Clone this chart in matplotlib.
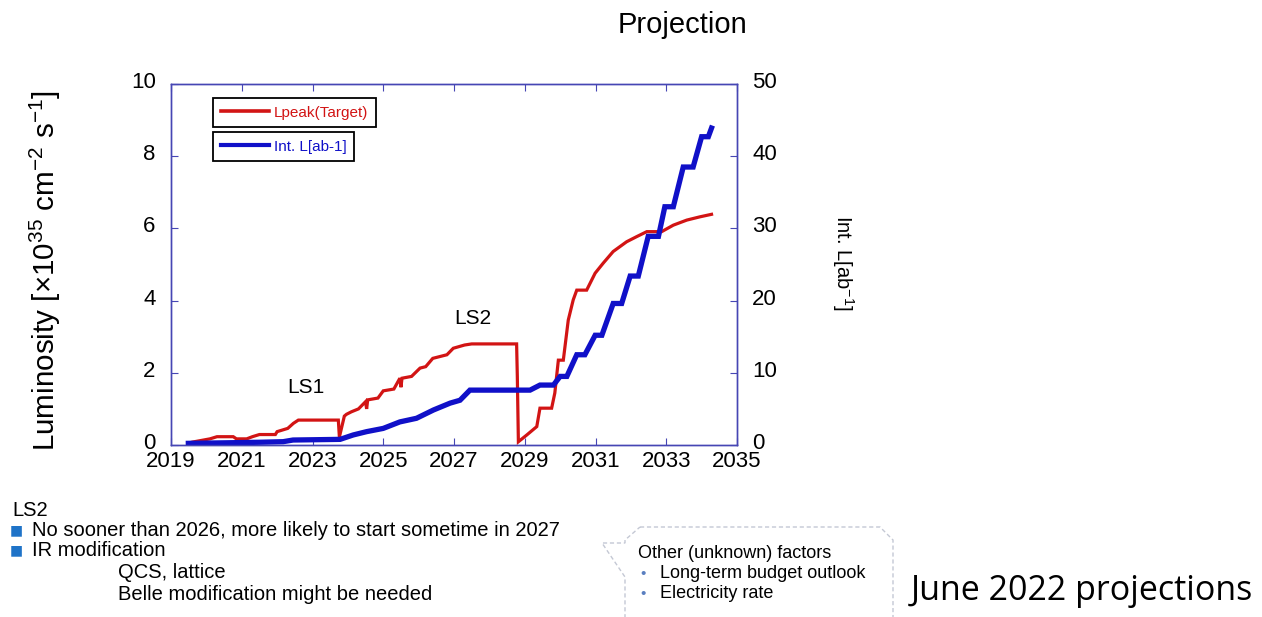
import numpy as np
import matplotlib.pyplot as plt
from matplotlib.lines import Line2D
from matplotlib.path import Path
from matplotlib.patches import PathPatch
from matplotlib.transforms import ScaledTranslation

plt.rcParams['font.family'] = ['Liberation Sans', 'DejaVu Sans']
plt.rcParams['mathtext.fontset'] = 'custom'
plt.rcParams['mathtext.rm'] = 'Liberation Sans'
plt.rcParams['mathtext.it'] = 'Liberation Sans'
plt.rcParams['mathtext.default'] = 'regular'

# peak luminosity target, x1e35 cm^-2 s^-1 (left axis)
red_year = [2019.49, 2019.6, 2020.1, 2020.3, 2020.76, 2020.85, 2021.14, 2021.3, 2021.5,
            2021.95, 2022.0, 2022.3, 2022.46, 2022.6, 2023.73, 2023.76, 2023.9, 2023.96,
            2024.1, 2024.3, 2024.5, 2024.53, 2024.56, 2024.85, 2025.0, 2025.3, 2025.47,
            2025.5, 2025.53, 2025.8, 2026.04, 2026.2, 2026.4, 2026.8, 2026.98, 2027.3,
            2027.5, 2028.77, 2028.79, 2028.82, 2029.06, 2029.34, 2029.43, 2029.76, 2029.85,
            2029.95, 2030.09, 2030.23, 2030.37, 2030.47, 2030.75, 2030.99, 2031.22, 2031.5,
            2031.88, 2032.16, 2032.45, 2032.87, 2033.2, 2033.58, 2033.95, 2034.28]
red_lpeak = [0.05, 0.08, 0.17, 0.23, 0.23, 0.17, 0.17, 0.23, 0.29,
             0.29, 0.37, 0.46, 0.6, 0.69, 0.69, 0.22, 0.8, 0.85,
             0.92, 1.0, 1.2, 1.0, 1.25, 1.3, 1.5, 1.55, 1.85,
             1.6, 1.85, 1.9, 2.13, 2.17, 2.4, 2.5, 2.68, 2.77,
             2.8, 2.8, 1.9, 0.09, 0.28, 0.51, 1.02, 1.02, 1.44,
             2.35, 2.35, 3.46, 4.02, 4.29, 4.29, 4.76, 5.04, 5.36,
             5.63, 5.77, 5.91, 5.91, 6.09, 6.23, 6.32, 6.39]

# integrated luminosity, ab^-1 (right axis)
blue_year = [2019.49, 2020.5, 2021.5, 2022.17, 2022.45, 2023.78, 2024.15, 2024.53, 2025.0,
             2025.47, 2025.94, 2026.42, 2026.89, 2027.17, 2027.45, 2029.15, 2029.43, 2029.81,
             2030.0, 2030.19, 2030.47, 2030.7, 2030.99, 2031.18, 2031.5, 2031.74, 2031.98,
             2032.21, 2032.49, 2032.78, 2032.96, 2033.2, 2033.48, 2033.76, 2034.0, 2034.19,
             2034.28]
blue_intl = [0.23, 0.3, 0.38, 0.46, 0.69, 0.78, 1.39, 1.85, 2.3,
             3.2, 3.7, 4.85, 5.8, 6.2, 7.6, 7.6, 8.3, 8.3,
             9.5, 9.5, 12.5, 12.5, 15.2, 15.2, 19.6, 19.6, 23.4,
             23.4, 28.9, 28.9, 33.0, 33.0, 38.5, 38.5, 42.7, 42.7,
             43.9]

year_ticks = [2019, 2021, 2023, 2025, 2027, 2029, 2031, 2033, 2035]
lum_ticks = [0, 2, 4, 6, 8, 10]
int_ticks = [0, 10, 20, 30, 40, 50]

W, H = 1262, 617
RED = '#d21414'
BLUE = '#1010c8'
SPINE = '#4646b4'


def px(x, y):
    """pixel position (from top left) -> figure fraction"""
    return x / W, 1 - y / H


fig = plt.figure(figsize=(W / 100, H / 100), dpi=100)
ax = fig.add_axes([171 / W, 1 - 445 / H, 566 / W, 361 / H])
ax2 = ax.twinx()

ax.plot(red_year, red_lpeak, color=RED, lw=2.3, solid_joinstyle='miter')
ax2.plot(blue_year, blue_intl, color=BLUE, lw=3.8, solid_joinstyle='miter')

ax.set_xlim(2019, 2035)
ax.set_ylim(0, 10)
ax2.set_ylim(0, 50)
ax.set_xticks(year_ticks)
ax.set_yticks(lum_ticks)
ax2.set_yticks(int_ticks)

for a in (ax, ax2):
    for s in a.spines.values():
        s.set_color(SPINE)
        s.set_linewidth(1.0)
ax.tick_params(axis='x', direction='in', top=True, length=5, color=SPINE,
               labelsize=16, pad=4)
ax.tick_params(axis='y', direction='in', length=5, color=SPINE, labelsize=16, pad=11)
ax2.tick_params(axis='y', direction='in', length=5, color=SPINE, labelsize=16, pad=11)

# y labels sit a few pixels above their ticks, as in the original
lift = ScaledTranslation(0, 4 / 100, fig.dpi_scale_trans)
for lab in ax.get_yticklabels() + ax2.get_yticklabels():
    lab.set_transform(lab.get_transform() + lift)

ax.text(2022.8, 1.6, 'LS1', fontsize=15, ha='center', va='center')
ax.text(2027.53, 3.5, 'LS2', fontsize=15, ha='center', va='center')

# two separate legend boxes
leg_kw = dict(loc='upper left', borderaxespad=0, fancybox=False, edgecolor='black',
              framealpha=1, fontsize=11, handlelength=3.2, handletextpad=0.3,
              borderpad=0.5)
leg1 = ax2.legend([Line2D([], [], color=RED, lw=2.6)], ['Lpeak(Target)'],
                  bbox_to_anchor=(0.074, 0.961), labelcolor=RED, **leg_kw)
leg1.get_frame().set_linewidth(1.3)
ax2.add_artist(leg1)
leg2 = ax2.legend([Line2D([], [], color=BLUE, lw=3)], ['Int. L[ab-1]'],
                  bbox_to_anchor=(0.074, 0.867), labelcolor=BLUE, **leg_kw)
leg2.get_frame().set_linewidth(1.3)

fig.text(*px(682, 25), 'Projection', fontsize=21, ha='center', va='center')
fig.text(*px(45, 271), r'Luminosity [×10$^{35}$ cm$^{-2}$ s$^{-1}$]', fontsize=21.3,
         rotation=90, ha='center', va='center')
fig.text(*px(843, 263), r'Int. L[ab$^{-1}$]', fontsize=14.5, rotation=270,
         ha='center', va='center')

# notes below the chart
note_fs = 14.5
fig.text(*px(12, 510), 'LS2', fontsize=note_fs, va='center')
for yy, txt in [(530, 'No sooner than 2026, more likely to start sometime in 2027'),
                (550, 'IR modification')]:
    fig.text(*px(10, yy), '■', fontsize=10, color='#1f73c8', va='center',
             family='DejaVu Sans')
    fig.text(*px(32, yy), txt, fontsize=note_fs, va='center')
fig.text(*px(118, 573), 'QCS, lattice', fontsize=note_fs, va='center')
fig.text(*px(118, 594), 'Belle modification might be needed', fontsize=note_fs,
         va='center')

# speech bubble
bubble_px = [(640, 527), (880, 527), (893, 540), (893, 625), (625, 625), (625, 577),
             (602, 543), (625, 543), (625, 540), (640, 527)]
verts = [px(x, y) for x, y in bubble_px]
bubble = PathPatch(Path(verts), transform=fig.transFigure, facecolor='white',
                   edgecolor='#c4c8d4', lw=1.0, ls=(0, (3, 2)), clip_on=False)
fig.patches.append(bubble)
fig.text(*px(638, 553), 'Other (unknown) factors', fontsize=13, va='center')
for yy, txt in [(574, 'Long-term budget outlook'), (594, 'Electricity rate')]:
    fig.text(*px(640, yy), '•', fontsize=11, color='#5a7fc0', va='center')
    fig.text(*px(660, yy), txt, fontsize=13, va='center')

fig.text(*px(911, 591), 'June 2022 projections', fontsize=24.5,
         family=['Open Sans', 'DejaVu Sans'], va='center')

fig.savefig('out.png', dpi=100)
